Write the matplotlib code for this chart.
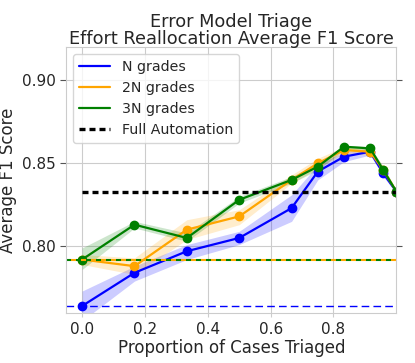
import numpy as np
import matplotlib
matplotlib.use("Agg")
import matplotlib.pyplot as plt
from matplotlib.lines import Line2D
import seaborn as sns

# proportion of cases triaged
x = [0, 1/6, 1/3, 1/2, 2/3, 3/4, 5/6, 11/12, 23/24, 1.0]

# mean F1 per setting
n_mean = [0.764, 0.784, 0.797, 0.805, 0.823, 0.845, 0.854, 0.857, 0.844, 0.833]
n2_mean = [0.792, 0.788, 0.810, 0.818, 0.840, 0.850, 0.858, 0.857, 0.846, 0.833]
n3_mean = [0.792, 0.813, 0.805, 0.828, 0.840, 0.848, 0.860, 0.859, 0.846, 0.833]

# confidence bands
n_lo = [0.755, 0.779, 0.792, 0.801, 0.815, 0.840, 0.851, 0.855, 0.842, 0.832]
n_hi = [0.773, 0.788, 0.801, 0.809, 0.831, 0.849, 0.857, 0.859, 0.846, 0.834]
n2_lo = [0.789, 0.783, 0.804, 0.813, 0.838, 0.847, 0.856, 0.855, 0.844, 0.832]
n2_hi = [0.795, 0.793, 0.816, 0.822, 0.843, 0.853, 0.860, 0.859, 0.848, 0.834]
n3_lo = [0.786, 0.811, 0.803, 0.826, 0.838, 0.846, 0.858, 0.857, 0.844, 0.832]
n3_hi = [0.799, 0.815, 0.808, 0.830, 0.842, 0.850, 0.861, 0.860, 0.848, 0.834]

# baselines
n_base = 0.764
n2_base = 0.792
n3_base = 0.792
full_auto = 0.8327

sns.set_style("whitegrid")
plt.rcParams["font.family"] = ["DejaVu Sans"]

fig, ax = plt.subplots(figsize=(4.15, 3.63), dpi=100)

ax.plot(x, n_mean, color="blue", marker="o", ms=6, lw=1.6)
ax.fill_between(x, n_lo, n_hi, color="blue", alpha=0.2, lw=0)
ax.plot(x, n2_mean, color="orange", marker="o", ms=6, lw=1.6)
ax.fill_between(x, n2_lo, n2_hi, color="orange", alpha=0.2, lw=0)
ax.plot(x, n3_mean, color="green", marker="o", ms=6, lw=1.6)
ax.fill_between(x, n3_lo, n3_hi, color="green", alpha=0.2, lw=0)

ax.axhline(n_base, color="blue", ls=(0, (5.5, 3)), lw=1.0)
ax.axhline(n2_base, color="orange", ls=(2.4, (2.4, 2.4)), lw=1.5)
ax.axhline(n3_base, color="green", ls=(0, (2.4, 2.4)), lw=1.5)
ax.hlines(full_auto, 0, 1, color="black", ls=(0, (1.8, 1.2)), lw=2.4)

ax.set_xlim(-0.05, 1.0)
ax.set_ylim(0.7596, 0.92)
ax.set_xticks([0.0, 0.2, 0.4, 0.6, 0.8])
ax.set_yticks([0.80, 0.85, 0.90])
ax.set_yticklabels(["0.80", "0.85", "0.90"])
ax.tick_params(axis="y", left=True, right=True, length=4, color="#555555", labelsize=11)
ax.tick_params(axis="x", bottom=True, length=3, color="#cccccc", labelsize=11)

ax.set_xlabel("Proportion of Cases Triaged", fontsize=12, labelpad=1)
ax.set_ylabel("Average F1 Score", fontsize=12)
ax.set_title("Error Model Triage\nEffort Reallocation Average F1 Score", fontsize=12.8, pad=2,
             linespacing=0.95)

handles = [
    Line2D([], [], color="blue", lw=1.6),
    Line2D([], [], color="orange", lw=1.6),
    Line2D([], [], color="green", lw=1.6),
    Line2D([], [], color="black", lw=2.4, ls=(0, (1.8, 1.2))),
]
ax.legend(handles, ["N grades", "2N grades", "3N grades", "Full Automation"],
          loc="upper left", fontsize=10.2, handlelength=2.2, frameon=True)

fig.subplots_adjust(left=0.16, right=0.955, top=0.87, bottom=0.137)
fig.savefig("out.png", dpi=100)
